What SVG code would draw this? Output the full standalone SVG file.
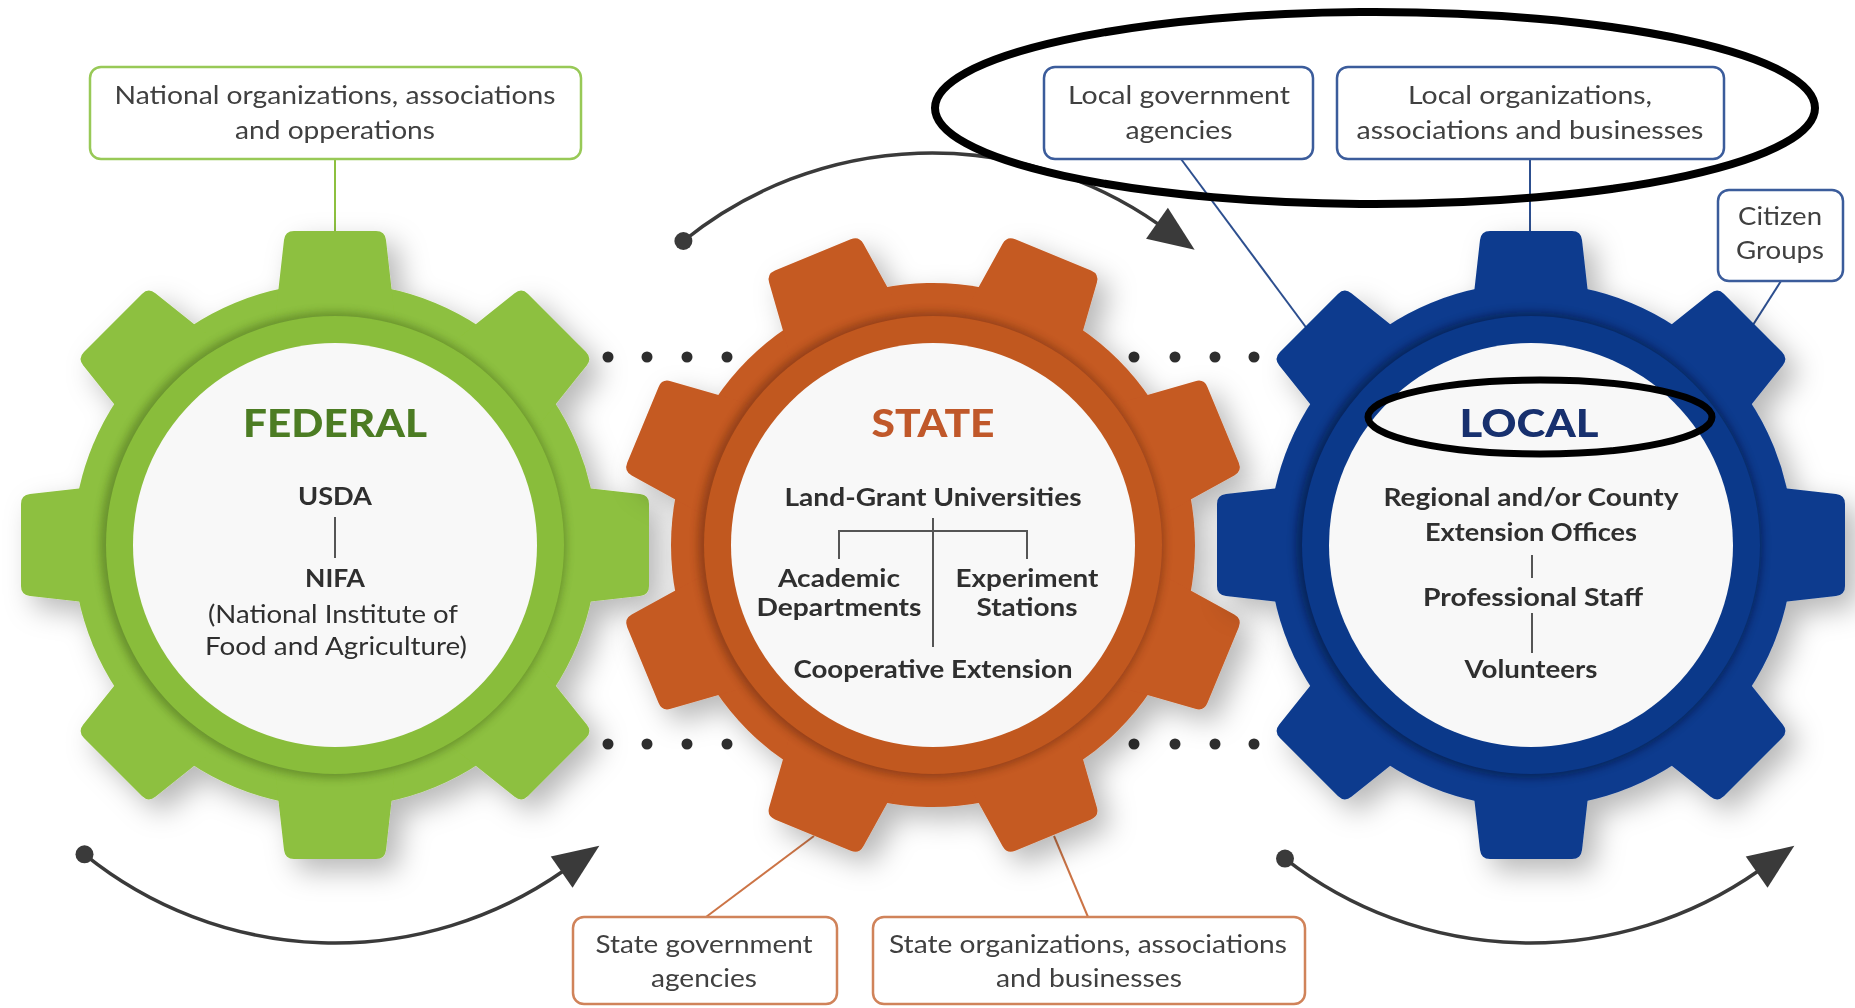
<svg xmlns="http://www.w3.org/2000/svg" xmlns:xlink="http://www.w3.org/1999/xlink" width="1855" height="1008" viewBox="0 0 1855 1008">
<style>
.box{fill:#fff;stroke-width:2.5}
.bx-g{stroke:#98c957}
.bx-b{stroke:#3b5c9b}
.bx-o{stroke:#d0835a}
.bt{font-family:Lato,"Open Sans","Liberation Sans",sans-serif;font-size:25px;fill:#404040;text-anchor:middle}
.gt{font-family:Lato,"Open Sans","Liberation Sans",sans-serif;font-size:25px;font-weight:700;fill:#2f2f2f;text-anchor:middle}
.gr{font-family:Lato,"Open Sans","Liberation Sans",sans-serif;font-size:25px;font-weight:400;fill:#2f2f2f;text-anchor:middle}
.title{font-family:Lato,"Open Sans","Liberation Sans",sans-serif;font-size:38px;font-weight:900;text-anchor:middle}
.hl{stroke:#555;stroke-width:2;fill:none}
.con{stroke-width:2;fill:none}
.arc{stroke:#3a3a3a;stroke-width:3.5;fill:none;marker-start:url(#dot);marker-end:url(#ah)}
.sd{fill:#2e2e2e}
.note{fill:none;stroke:#000}
</style>
<defs>
<path id="tooth" d="M -60 -225 L -51 -305 Q -50 -314 -41 -314 L 41 -314 Q 50 -314 51 -305 L 60 -225 Z"/>
<filter id="drop" x="-30%" y="-30%" width="160%" height="160%">
<feDropShadow dx="12" dy="12" stdDeviation="14" flood-color="#000" flood-opacity="0.28"/>
</filter>
<filter id="blur" x="-20%" y="-20%" width="140%" height="140%">
<feGaussianBlur stdDeviation="4"/>
</filter>
<marker id="ah" markerUnits="userSpaceOnUse" markerWidth="50" markerHeight="42" refX="2" refY="21" orient="auto" overflow="visible">
<path d="M0 2 L46 21 L0 40 Z" fill="#3a3a3a"/>
</marker>
<marker id="dot" markerUnits="userSpaceOnUse" markerWidth="20" markerHeight="20" refX="10" refY="10" overflow="visible">
<circle cx="10" cy="10" r="9" fill="#3a3a3a"/>
</marker>
</defs>
<rect width="1855" height="1008" fill="#ffffff"/>

<g id="connectors">
<line class="con" x1="335" y1="159" x2="335" y2="236" stroke="#8dc03f"/>
<line class="con" x1="1181" y1="159" x2="1308" y2="330" stroke="#2d4f8f"/>
<line class="con" x1="1530" y1="159" x2="1530" y2="236" stroke="#2d4f8f"/>
<line class="con" x1="1781" y1="281" x2="1751" y2="328" stroke="#2d4f8f"/>
<line class="con" x1="706" y1="917" x2="814" y2="836" stroke="#cc7446"/>
<line class="con" x1="1088" y1="917" x2="1054" y2="836" stroke="#cc7446"/>
<path class="arc" d="M 84.5 854.3 A 398 398 0 0 0 563.3 871.0"/>
<path class="arc" d="M 683.4 241.0 A 395 395 0 0 1 1158.6 224.4"/>
<path class="arc" d="M 1285 858.6 A 398 398 0 0 0 1758.3 871.0"/>
</g>

<g id="dots">
<circle class="sd" cx="608" cy="357" r="5.5"/><circle class="sd" cx="647" cy="357" r="5.5"/><circle class="sd" cx="687" cy="357" r="5.5"/><circle class="sd" cx="727" cy="357" r="5.5"/>
<circle class="sd" cx="1134" cy="357" r="5.5"/><circle class="sd" cx="1175" cy="357" r="5.5"/><circle class="sd" cx="1215" cy="357" r="5.5"/><circle class="sd" cx="1254" cy="357" r="5.5"/>
<circle class="sd" cx="608" cy="744" r="5.5"/><circle class="sd" cx="647" cy="744" r="5.5"/><circle class="sd" cx="687" cy="744" r="5.5"/><circle class="sd" cx="727" cy="744" r="5.5"/>
<circle class="sd" cx="1134" cy="744" r="5.5"/><circle class="sd" cx="1175" cy="744" r="5.5"/><circle class="sd" cx="1215" cy="744" r="5.5"/><circle class="sd" cx="1254" cy="744" r="5.5"/>
</g>

<g id="federal">
<g transform="translate(335 545)" fill="#8dc03f" filter="url(#drop)">
<circle r="262"/>
<use xlink:href="#tooth" href="#tooth"/>
<use xlink:href="#tooth" href="#tooth" transform="rotate(45)"/>
<use xlink:href="#tooth" href="#tooth" transform="rotate(90)"/>
<use xlink:href="#tooth" href="#tooth" transform="rotate(135)"/>
<use xlink:href="#tooth" href="#tooth" transform="rotate(180)"/>
<use xlink:href="#tooth" href="#tooth" transform="rotate(225)"/>
<use xlink:href="#tooth" href="#tooth" transform="rotate(270)"/>
<use xlink:href="#tooth" href="#tooth" transform="rotate(315)"/>
</g>
<circle cx="333" cy="545" r="233" fill="#3d5a12" opacity="0.45" filter="url(#blur)"/>
<circle cx="335" cy="545" r="229" fill="#89bd3b"/>
<circle cx="335" cy="545" r="202" fill="#f8f8f8"/>
<text class="title" x="335" y="437" fill="#4c7c23" textLength="184" lengthAdjust="spacingAndGlyphs">FEDERAL</text>
<text class="gt" x="335" y="505" textLength="74" lengthAdjust="spacingAndGlyphs">USDA</text>
<line class="hl" x1="335" y1="517" x2="335" y2="558"/>
<text class="gt" x="335" y="587" textLength="60" lengthAdjust="spacingAndGlyphs">NIFA</text>
<text class="gr" x="333" y="623" textLength="250" lengthAdjust="spacingAndGlyphs">(National Institute of</text>
<text class="gr" x="336" y="655" textLength="262" lengthAdjust="spacingAndGlyphs">Food and Agriculture)</text>
</g>

<g id="state">
<g transform="translate(933 545)" fill="#c55a22" filter="url(#drop)">
<circle r="262"/>
<use xlink:href="#tooth" href="#tooth" transform="rotate(22.5)"/>
<use xlink:href="#tooth" href="#tooth" transform="rotate(67.5)"/>
<use xlink:href="#tooth" href="#tooth" transform="rotate(112.5)"/>
<use xlink:href="#tooth" href="#tooth" transform="rotate(157.5)"/>
<use xlink:href="#tooth" href="#tooth" transform="rotate(202.5)"/>
<use xlink:href="#tooth" href="#tooth" transform="rotate(247.5)"/>
<use xlink:href="#tooth" href="#tooth" transform="rotate(292.5)"/>
<use xlink:href="#tooth" href="#tooth" transform="rotate(337.5)"/>
</g>
<circle cx="931" cy="545" r="233" fill="#5a2208" opacity="0.45" filter="url(#blur)"/>
<circle cx="933" cy="545" r="229" fill="#c1581f"/>
<circle cx="933" cy="545" r="202" fill="#f8f8f8"/>
<text class="title" x="933" y="437" fill="#c0582a" textLength="123" lengthAdjust="spacingAndGlyphs">STATE</text>
<text class="gt" x="933" y="506" textLength="297" lengthAdjust="spacingAndGlyphs">Land-Grant Universities</text>
<line class="hl" x1="933" y1="518" x2="933" y2="647"/>
<path class="hl" d="M 839 559 V 531 H 1027 V 559"/>
<text class="gt" x="839" y="587" textLength="122" lengthAdjust="spacingAndGlyphs">Academic</text>
<text class="gt" x="839" y="616" textLength="165" lengthAdjust="spacingAndGlyphs">Departments</text>
<text class="gt" x="1027" y="587" textLength="143" lengthAdjust="spacingAndGlyphs">Experiment</text>
<text class="gt" x="1027" y="616" textLength="101" lengthAdjust="spacingAndGlyphs">Stations</text>
<text class="gt" x="933" y="678" textLength="279" lengthAdjust="spacingAndGlyphs">Cooperative Extension</text>
</g>

<g id="local">
<g transform="translate(1531 545)" fill="#0c3b8e" filter="url(#drop)">
<circle r="262"/>
<use xlink:href="#tooth" href="#tooth"/>
<use xlink:href="#tooth" href="#tooth" transform="rotate(45)"/>
<use xlink:href="#tooth" href="#tooth" transform="rotate(90)"/>
<use xlink:href="#tooth" href="#tooth" transform="rotate(135)"/>
<use xlink:href="#tooth" href="#tooth" transform="rotate(180)"/>
<use xlink:href="#tooth" href="#tooth" transform="rotate(225)"/>
<use xlink:href="#tooth" href="#tooth" transform="rotate(270)"/>
<use xlink:href="#tooth" href="#tooth" transform="rotate(315)"/>
</g>
<circle cx="1529" cy="545" r="233" fill="#000a2a" opacity="0.5" filter="url(#blur)"/>
<circle cx="1531" cy="545" r="229" fill="#0b398a"/>
<circle cx="1531" cy="545" r="202" fill="#f8f8f8"/>
<text class="title" x="1529" y="437" fill="#17306e" textLength="139" lengthAdjust="spacingAndGlyphs">LOCAL</text>
<text class="gt" x="1531" y="506" textLength="295" lengthAdjust="spacingAndGlyphs">Regional and/or County</text>
<text class="gt" x="1531" y="541" textLength="212" lengthAdjust="spacingAndGlyphs">Extension Offices</text>
<line class="hl" x1="1532" y1="555" x2="1532" y2="578"/>
<text class="gt" x="1533" y="606" textLength="220" lengthAdjust="spacingAndGlyphs">Professional Staff</text>
<line class="hl" x1="1532" y1="613" x2="1532" y2="653"/>
<text class="gt" x="1531" y="678" textLength="133" lengthAdjust="spacingAndGlyphs">Volunteers</text>
</g>

<g id="box-national">
<rect class="box bx-g" x="90" y="67" width="491" height="92" rx="11"/>
<text class="bt" x="335" y="104" textLength="441" lengthAdjust="spacingAndGlyphs">National organizations, associations</text>
<text class="bt" x="335" y="139" textLength="200" lengthAdjust="spacingAndGlyphs">and opperations</text>
</g>
<g id="box-local-gov">
<rect class="box bx-b" x="1044" y="67" width="269" height="92" rx="11"/>
<text class="bt" x="1179" y="104" textLength="222" lengthAdjust="spacingAndGlyphs">Local government</text>
<text class="bt" x="1179" y="139" textLength="107" lengthAdjust="spacingAndGlyphs">agencies</text>
</g>
<g id="box-local-org">
<rect class="box bx-b" x="1337" y="67" width="387" height="92" rx="11"/>
<text class="bt" x="1530" y="104" textLength="244" lengthAdjust="spacingAndGlyphs">Local organizations,</text>
<text class="bt" x="1530" y="139" textLength="347" lengthAdjust="spacingAndGlyphs">associations and businesses</text>
</g>
<g id="box-citizen">
<rect class="box bx-b" x="1718" y="190" width="125" height="91" rx="11"/>
<text class="bt" x="1780" y="225" textLength="84" lengthAdjust="spacingAndGlyphs">Citizen</text>
<text class="bt" x="1780" y="259" textLength="88" lengthAdjust="spacingAndGlyphs">Groups</text>
</g>
<g id="box-state-gov">
<rect class="box bx-o" x="573" y="917" width="264" height="87" rx="11"/>
<text class="bt" x="704" y="953" textLength="217" lengthAdjust="spacingAndGlyphs">State government</text>
<text class="bt" x="704" y="987" textLength="106" lengthAdjust="spacingAndGlyphs">agencies</text>
</g>
<g id="box-state-org">
<rect class="box bx-o" x="873" y="917" width="432" height="87" rx="11"/>
<text class="bt" x="1088" y="953" textLength="398" lengthAdjust="spacingAndGlyphs">State organizations, associations</text>
<text class="bt" x="1089" y="987" textLength="186" lengthAdjust="spacingAndGlyphs">and businesses</text>
</g>

<g id="annotations">
<ellipse class="note" cx="1375" cy="108" rx="440" ry="96" stroke-width="8"/>
<ellipse class="note" cx="1540" cy="417" rx="172" ry="37" stroke-width="7"/>
</g>
</svg>
